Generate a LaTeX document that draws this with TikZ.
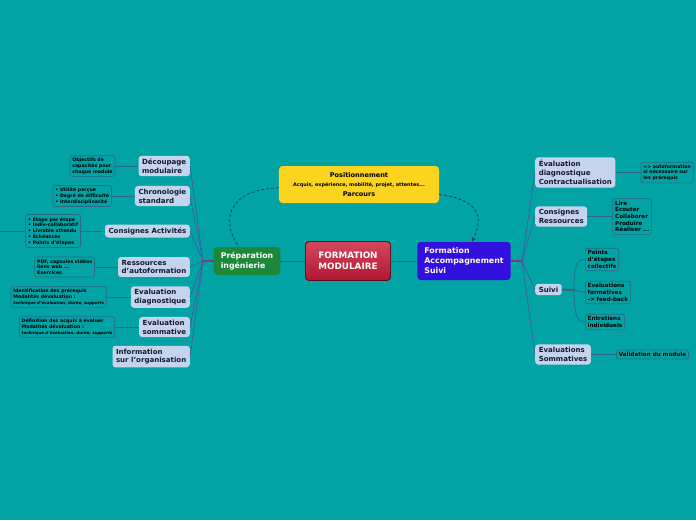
\documentclass[tikz,border=0pt]{standalone}
\usepackage{fontspec}
\setmainfont{DejaVu Sans}
\usetikzlibrary{positioning,calc}
\usetikzlibrary{arrows.meta}
\definecolor{MapTeal}{RGB}{2,163,164}
\definecolor{TopicBlue}{RGB}{196,212,236}
\definecolor{TopicInk}{RGB}{20,24,48}
\definecolor{NoteLine}{RGB}{44,104,140}
\definecolor{LinkViolet}{RGB}{84,78,160}
\definecolor{CoreTop}{RGB}{212,72,92}
\definecolor{CoreBot}{RGB}{176,22,50}
\definecolor{CoreRim}{RGB}{96,14,30}
\definecolor{PrepGreen}{RGB}{30,136,58}
\definecolor{SuiviBlue}{RGB}{52,16,222}
\definecolor{PosYellow}{RGB}{250,212,30}
\definecolor{DashInk}{RGB}{22,60,78}
\tikzset{
	core/.style={draw=CoreRim,line width=0.8pt,top color=CoreTop,bottom color=CoreBot,rounded corners=3pt,
		text=white,font=\bfseries\fontsize{7.5}{9.4}\selectfont,align=center,minimum width=2.55cm,minimum height=1.17cm},
	main/.style={rounded corners=3pt,text=white,font=\bfseries\fontsize{6.7}{8.5}\selectfont,align=left,inner xsep=6pt},
	posbox/.style={fill=PosYellow,rounded corners=3pt,text=black,font=\bfseries\fontsize{5.6}{8.4}\selectfont,
		align=center,minimum width=4.8cm,minimum height=1.11cm},
	topic/.style={fill=TopicBlue,text=TopicInk,rounded corners=2.5pt,font=\bfseries\fontsize{6}{7.5}\selectfont,
		align=left,inner xsep=3pt,inner ysep=2.5pt},
	note/.style={draw=NoteLine,line width=0.6pt,fill=MapTeal,rounded corners=2pt,text=black,
		font=\bfseries\fontsize{4}{4.9}\selectfont,align=left,inner sep=2pt},
	bignote/.style={note,font=\bfseries\fontsize{4.8}{5.7}\selectfont},
	link/.style={draw=LinkViolet,line width=0.5pt},
	stub/.style={draw=LinkViolet!75!red,line width=1.3pt},
	notelink/.style={draw=NoteLine,line width=0.6pt},
	hint/.style={draw=DashInk,line width=0.6pt,dash pattern=on 2.5pt off 1.7pt},
}
\newcommand{\smallit}[1]{{\fontsize{3.4}{4.6}\selectfont\itshape #1}}

\begin{document}
\begin{tikzpicture}[x=0.03cm,y=-0.03cm]
	\useasboundingbox[fill=MapTeal] (0,0) rectangle (696,520);

	\node[core] (core) at (348,261) {FORMATION\\MODULAIRE};
	\node[main,fill=PrepGreen,minimum height=0.84cm] (prep) at (247,261) {Préparation\\ingénierie};
	\node[main,fill=SuiviBlue,minimum height=1.14cm] (form) at (464,261) {Formation\\Accompagnement\\Suivi};
	\node[posbox] (pos) at (359,184.5) {Positionnement\\{\fontsize{4.2}{5}\selectfont Acquis, expérience, mobilité, projet, attentes...}\\Parcours};

	\coordinate (lh) at (203,261);
	\coordinate (rh) at (522,261);
	\coordinate (sh) at (574,290);
	\coordinate (cut) at (-6,231);

	\node[topic,anchor=east] (dec) at (190,166) {Découpage\\modulaire};
	\node[topic,anchor=east] (chr) at (190,196) {Chronologie\\standard};
	\node[topic,anchor=east] (act) at (190,231) {Consignes Activités};
	\node[topic,anchor=east] (res) at (190,267) {Ressources\\d'autoformation};
	\node[topic,anchor=east] (evd) at (190,297) {Evaluation\\diagnostique};
	\node[topic,anchor=east] (evs) at (190,327) {Evaluation\\sommative};
	\node[topic,anchor=east] (inf) at (190,356.5) {Information\\sur l'organisation};

	\node[topic,anchor=west] (rdi) at (535,172.5) {Évaluation\\diagnostique\\Contractualisation};
	\node[topic,anchor=west] (rcr) at (535,216.5) {Consignes\\Ressources};
	\node[topic,anchor=west] (suivi) at (535,289.5) {Suivi};
	\node[topic,anchor=west] (rsom) at (535,354.5) {Evaluations\\Sommatives};

	\node[note,left=0.69cm of dec] (objn) {Objectifs de\\capacités pour\\chaque module};
	\node[note,left=0.69cm of chr] (chrn) {• Utilité perçue\\• Degré de difficulté\\• Interdisciplinarité};
	\node[note,left=0.72cm of act] (actn) {• Étape par étape\\• Indiv-collaboratif\\• Livrable attendu\\• Échéances\\• Points d'étapes};
	\node[note,left=0.69cm of res] (resn) {PDF, capsules vidéos\\liens web ...\\Exercices};
	\node[note,left=0.72cm of evd] (evdn) {Identification des prérequis\\Modalités dévaluation :\\\smallit{technique d'évaluation, durée, supports}};
	\node[note,left=0.72cm of evs] (evsn) {Définition des acquis à évaluer\\Modalités dévaluation :\\\smallit{technique d'évaluation, durée, supports}};

	\node[note,right=0.75cm of rdi] (autn) {=> autoformation\\si nécessaire sur\\les prérequis};
	\node[bignote,right=0.75cm of rcr] (lirn) {Lire\\Écouter\\Collaborer\\Produire\\Réaliser ...};
	\node[bignote,anchor=west] (pten) at (585,259.5) {Points\\d'étapes\\collectifs};
	\node[bignote,anchor=west] (evfn) at (585,292.5) {Evaluations\\formatives\\-> feed-back};
	\node[bignote,anchor=west] (entn) at (585,322) {Entretiens\\individuels};
	\node[bignote,right=0.75cm of rsom] (valn) {Validation du module};

	\draw[link] (core) -- (prep);
	\draw[link] (core) -- (form);
	\draw[stub] (prep.west) -- (lh);
	\draw[stub] (form.east) -- (rh);
	\draw[stub] (suivi.east) -- (sh);
	\foreach \b in {dec,chr,act,res,evd,evs,inf}
	\draw[link] (lh) -- (\b.east);
	\foreach \b in {rdi,rcr,suivi,rsom}
	\draw[link] (rh) -- (\b.west);
	\foreach \a/\b in {objn/dec,chrn/chr,actn/act,resn/res,evdn/evd,evsn/evs}
	\draw[notelink] (\a.east) -- (\b.west);
	\foreach \a/\b in {rdi/autn,rcr/lirn,rsom/valn}
	\draw[notelink] (\a.east) -- (\b.west);
	\draw[notelink] (actn.west) -- (cut);
	\draw[notelink] (sh) .. controls +(0,-25) and +(-8,0) .. (pten.west);
	\draw[notelink] (sh) -- (evfn.west);
	\draw[notelink] (sh) .. controls +(0,25) and +(-8,0) .. (entn.west);

	\draw[hint] ([yshift=-0.1cm]pos.west) .. controls +(-55,2) and +(-17,-22) .. ([xshift=-0.24cm]prep.north);
	\draw[hint,-{Stealth[length=4pt,width=4pt]}] ([yshift=-0.3cm]pos.east) .. controls +(40,5) and +(12,-25) .. ([xshift=0.24cm]form.north);
\end{tikzpicture}
\end{document}
